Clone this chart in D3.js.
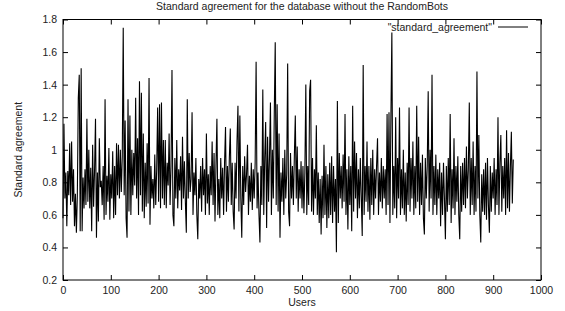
<!DOCTYPE html>
<html>
<head>
<meta charset="utf-8">
<script src="https://cdn.jsdelivr.net/npm/d3@7"></script>
<style>
  body { margin: 0; background: #fff; }
  text { font-family: "Liberation Sans", Arial, sans-serif; fill: #222; }
</style>
</head>
<body>
<script>
// Values, one every 2 users (user 0, 2, 4, ... 942)
const userStep = 2;
const agreement = [
  0.58, 1.16, 0.70, 0.86, 0.53, 0.87, 0.72, 1.04, 0.66, 1.05, 0.68, 0.88, 0.53, 0.73, 0.49, 0.72, 1.32, 1.46, 0.50, 1.50,
  0.50, 0.83, 0.64, 0.88, 0.66, 1.19, 0.68, 1.00, 0.64, 0.89, 0.50, 1.03, 0.65, 0.87, 1.19, 0.46, 0.86, 0.56, 1.07, 0.77,
  0.81, 0.66, 0.90, 0.57, 1.31, 0.60, 0.84, 0.68, 1.01, 0.57, 0.85, 0.70, 0.99, 0.58, 0.90, 0.60, 1.04, 0.72, 1.03, 0.70,
  1.00, 0.74, 0.96, 1.75, 0.72, 1.18, 0.58, 0.46, 1.31, 0.62, 1.21, 0.60, 1.00, 0.72, 0.98, 0.78, 1.32, 0.70, 1.07, 0.60,
  1.42, 0.72, 1.35, 0.62, 1.10, 0.58, 0.92, 0.65, 1.04, 0.67, 1.44, 0.54, 0.90, 0.70, 0.82, 0.64, 0.97, 0.66, 0.88, 1.26,
  0.68, 1.28, 0.64, 1.29, 0.70, 1.06, 0.66, 1.06, 0.64, 0.92, 0.78, 1.10, 0.66, 0.90, 1.49, 0.60, 0.53, 0.95, 0.70, 1.06,
  0.64, 0.88, 0.75, 0.96, 0.63, 1.08, 0.70, 0.93, 0.68, 0.49, 1.31, 0.70, 0.98, 0.74, 0.82, 1.23, 0.60, 0.86, 0.72, 0.95,
  0.60, 0.45, 0.82, 0.70, 0.90, 0.62, 0.95, 0.72, 0.88, 0.60, 1.10, 0.67, 0.85, 0.60, 0.90, 0.72, 1.05, 0.66, 0.98, 0.56,
  0.90, 1.19, 0.60, 0.82, 0.58, 0.95, 0.70, 0.89, 0.60, 0.92, 1.14, 0.62, 0.90, 0.68, 0.95, 1.13, 0.66, 0.92, 0.62, 0.51,
  0.92, 0.70, 1.05, 1.27, 0.62, 1.21, 0.70, 0.46, 0.90, 0.66, 0.96, 0.74, 0.85, 1.03, 0.60, 0.84, 0.68, 0.92, 0.63, 0.88,
  0.70, 0.92, 1.54, 0.64, 0.86, 0.60, 0.43, 0.90, 0.66, 1.37, 0.60, 0.95, 1.17, 0.52, 1.08, 0.68, 0.96, 1.29, 0.60, 1.00,
  0.70, 1.22, 1.66, 0.66, 1.28, 0.62, 1.10, 0.46, 0.86, 0.68, 0.95, 0.60, 1.00, 0.70, 0.85, 1.53, 0.62, 0.53, 0.98, 0.70,
  0.90, 0.66, 0.96, 1.21, 0.70, 1.02, 0.62, 0.88, 0.70, 0.93, 0.64, 0.90, 0.61, 0.86, 1.40, 0.60, 0.90, 0.66, 1.36, 1.43,
  0.62, 0.95, 0.60, 0.88, 0.70, 1.15, 0.60, 0.86, 0.55, 0.82, 0.48, 0.84, 0.58, 1.03, 0.60, 0.90, 0.52, 0.85, 0.58, 0.92,
  0.60, 0.96, 0.55, 0.90, 0.62, 0.82, 0.37, 1.30, 0.55, 0.98, 0.70, 0.90, 0.64, 0.97, 0.68, 1.22, 0.60, 0.88, 0.51, 0.96,
  0.66, 0.90, 0.50, 1.27, 0.62, 1.05, 0.70, 0.98, 0.58, 0.88, 0.64, 0.95, 0.70, 0.47, 1.52, 0.60, 0.90, 0.68, 1.05, 0.62,
  0.90, 0.57, 0.95, 0.66, 1.00, 0.60, 0.88, 0.70, 0.90, 1.07, 0.60, 0.86, 0.68, 0.95, 0.64, 0.90, 0.70, 0.88, 0.60, 1.22,
  0.66, 1.23, 0.55, 1.20, 1.72, 0.60, 0.90, 0.64, 1.20, 0.58, 0.95, 0.70, 1.26, 0.60, 0.88, 0.64, 1.00, 0.60, 0.86, 0.56,
  0.92, 0.66, 1.26, 0.62, 0.95, 0.70, 1.05, 0.60, 0.90, 0.64, 1.27, 0.68, 1.08, 0.60, 0.92, 0.66, 0.97, 0.58, 0.48, 0.95,
  0.70, 0.90, 1.36, 0.62, 1.00, 0.70, 1.46, 0.60, 0.90, 0.66, 0.97, 0.60, 0.88, 0.70, 0.92, 0.53, 0.86, 0.60, 0.92, 0.70,
  0.45, 0.90, 0.62, 0.95, 0.66, 1.22, 0.55, 0.88, 0.64, 1.07, 0.60, 0.90, 0.68, 0.96, 0.60, 0.45, 0.90, 0.62, 0.92, 0.66,
  0.95, 0.64, 1.02, 0.70, 0.88, 1.29, 0.60, 0.95, 0.66, 1.05, 0.60, 0.90, 0.62, 1.48, 0.70, 1.09, 0.60, 0.43, 0.85, 0.62,
  0.88, 0.60, 0.92, 0.57, 0.95, 0.66, 0.49, 0.90, 0.62, 0.86, 0.70, 0.95, 0.60, 0.88, 0.66, 1.20, 0.60, 0.92, 1.09, 0.62,
  0.90, 0.70, 0.95, 0.60, 1.12, 0.64, 0.98, 0.62, 0.90, 1.11, 0.67, 0.94
];
const xTicks = [0, 100, 200, 300, 400, 500, 600, 700, 800, 900, 1000];
const yTicks = [0.2, 0.4, 0.6, 0.8, 1, 1.2, 1.4, 1.6, 1.8];

const width = 565, height = 311;
const margin = { top: 19.5, right: 24, bottom: 31, left: 63 };
const tickLen = 5;
const fontSize = '10.5px';

const svg = d3.select('body').append('svg')
    .attr('width', width)
    .attr('height', height);

const x = d3.scaleLinear().domain([0, 1000]).range([margin.left, width - margin.right]);
const y = d3.scaleLinear().domain([0.2, 1.8]).range([height - margin.bottom, margin.top]);

// ticks on all four sides, pointing inward (gnuplot style)
function styleAxis(g) {
  g.select('.domain').remove();
  g.selectAll('line').attr('stroke', '#000');
  g.selectAll('text').attr('fill', '#222').style('font-size', fontSize);
}

svg.append('g')
   .attr('transform', `translate(0,${height - margin.bottom})`)
   .call(d3.axisBottom(x).tickValues(xTicks).tickSize(-tickLen).tickPadding(7).tickFormat(d3.format('d')))
   .call(styleAxis);
svg.append('g')
   .attr('transform', `translate(0,${margin.top})`)
   .call(d3.axisTop(x).tickValues(xTicks).tickSize(-tickLen).tickFormat(''))
   .call(styleAxis);
svg.append('g')
   .attr('transform', `translate(${margin.left},0)`)
   .call(d3.axisLeft(y).tickValues(yTicks).tickSize(-tickLen).tickPadding(6).tickFormat(d3.format('')))
   .call(styleAxis);
svg.append('g')
   .attr('transform', `translate(${width - margin.right},0)`)
   .call(d3.axisRight(y).tickValues(yTicks).tickSize(-tickLen).tickFormat(''))
   .call(styleAxis);

// frame
svg.append('rect')
   .attr('x', margin.left).attr('y', margin.top)
   .attr('width', width - margin.left - margin.right)
   .attr('height', height - margin.top - margin.bottom)
   .attr('fill', 'none').attr('stroke', '#000');

// the series
const line = d3.line()
    .x((d, i) => x(i * userStep))
    .y(d => y(d));

svg.append('path')
   .datum(agreement)
   .attr('d', line)
   .attr('fill', 'none')
   .attr('stroke', '#000')
   .attr('stroke-width', 1.1);

// legend
svg.append('text')
   .attr('x', 492).attr('y', 30.5)
   .attr('text-anchor', 'end')
   .style('font-size', fontSize)
   .text('"standard_agreement"');
svg.append('line')
   .attr('x1', 498).attr('x2', 528)
   .attr('y1', 27).attr('y2', 27)
   .attr('stroke', '#000');

// title and axis labels
svg.append('text')
   .attr('x', (margin.left + width - margin.right) / 2).attr('y', 10)
   .attr('text-anchor', 'middle')
   .style('font-size', fontSize)
   .text('Standard agreement for the database without the RandomBots');

svg.append('text')
   .attr('x', (margin.left + width - margin.right) / 2).attr('y', 306)
   .attr('text-anchor', 'middle')
   .style('font-size', fontSize)
   .text('Users');

svg.append('text')
   .attr('transform', `translate(22,${(margin.top + height - margin.bottom) / 2}) rotate(-90)`)
   .attr('text-anchor', 'middle')
   .style('font-size', fontSize)
   .text('Standard agreement');
</script>
</body>
</html>
